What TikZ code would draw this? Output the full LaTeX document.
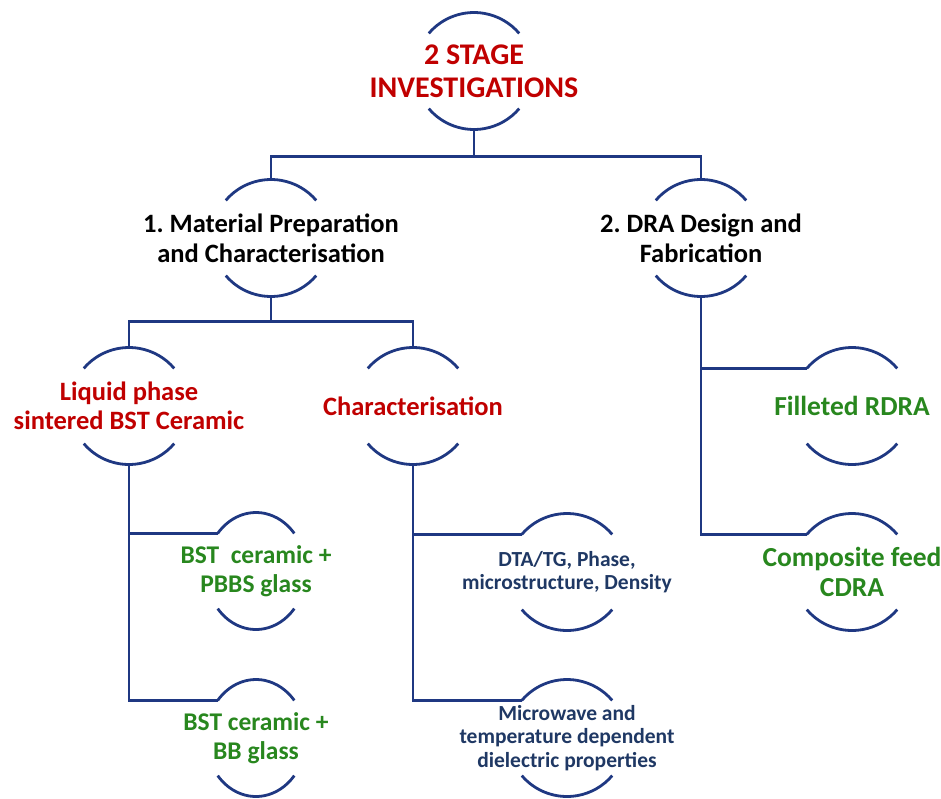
\documentclass[tikz,border=0pt]{standalone}
\usepackage{fontspec}
\setmainfont{Carlito}
\usepackage{tikz}

\definecolor{linkblue}{RGB}{31,56,130}
\definecolor{headred}{RGB}{192,0,0}
\definecolor{leafgreen}{RGB}{40,135,30}
\definecolor{notenavy}{RGB}{31,56,100}

\tikzset{
  link/.style={draw=linkblue, line width=2.8pt},
  head/.style={align=center, text=headred, font=\bfseries\fontsize{30}{33}\selectfont},
  stage/.style={align=center, text=black, font=\bfseries\fontsize{26.5}{30}\selectfont},
  topic/.style={align=center, text=headred, font=\bfseries\fontsize{26.5}{29}\selectfont},
  item/.style={align=center, text=leafgreen, font=\bfseries\fontsize{25.5}{29}\selectfont},
  leaf/.style={align=center, text=leafgreen, font=\bfseries\fontsize{27.5}{30}\selectfont},
  detail/.style={align=center, text=notenavy, font=\bfseries\fontsize{21.5}{23.5}\selectfont},
}

\begin{document}
\begin{tikzpicture}[x=1pt,y=-1pt]
\useasboundingbox (0,0) rectangle (941,798);

% the texts
\node[head] (root) at (474,71) {2 STAGE\\INVESTIGATIONS};
\node[stage] (mat) at (271,238) {1.\ Material Preparation\\and Characterisation};
\node[stage] (dra) at (701,238) {2.\ DRA Design and\\Fabrication};
\node[topic] (liq) at (129,406) {Liquid phase\\sintered BST Ceramic};
\node[topic] (chr) at (413,406) {Characterisation};
\node[item] (pbbs) at (256,571) {BST~~ceramic +\\PBBS glass};
\node[item] (bb) at (256,738) {BST ceramic +\\BB glass};
\node[detail] (dta) at (567,572) {DTA/TG, Phase,\\microstructure, Density};
\node[detail] (mw) at (567,738) {Microwave and\\temperature dependent\\dielectric properties};
\node[leaf] (fil) at (852,406) {Filleted RDRA};
\node[leaf] (cdra) at (852,572) {Composite feed\\CDRA};

% caps above and below every text
\foreach \n/\rx in {root/59pt, mat/59pt, dra/59pt, liq/59pt, chr/59pt, pbbs/50pt,
                    bb/50pt, dta/59pt, mw/59pt, fil/59pt, cdra/59pt} {
  \draw[link] ([shift={(140:{\rx} and 58.5pt)}]\n.center)
    arc[start angle=140, end angle=40, x radius=\rx, y radius=58.5pt];
  \draw[link] ([shift={(220:{\rx} and 58.5pt)}]\n.center)
    arc[start angle=220, end angle=320, x radius=\rx, y radius=58.5pt];
  \coordinate (\n-top) at ([yshift=58.5pt]\n.center);
  \coordinate (\n-bot) at ([yshift=-58.5pt]\n.center);
  \coordinate (\n-in) at ([shift={(140:{\rx} and 58.5pt)}]\n.center);
}

% tree lines
\draw[link] (root-bot) -- ++(0,27) -| (mat-top);
\draw[link] (root-bot) -- ++(0,27) -| (dra-top);
\draw[link] (mat-bot) -- ++(0,25) -| (liq-top);
\draw[link] (mat-bot) -- ++(0,25) -| (chr-top);
\draw[link] (liq-bot) |- (pbbs-in);
\draw[link] (liq-bot) |- (bb-in);
\draw[link] (chr-bot) |- (dta-in);
\draw[link] (chr-bot) |- (mw-in);
\draw[link] (dra-bot) |- (fil-in);
\draw[link] (dra-bot) |- (cdra-in);
\end{tikzpicture}
\end{document}
